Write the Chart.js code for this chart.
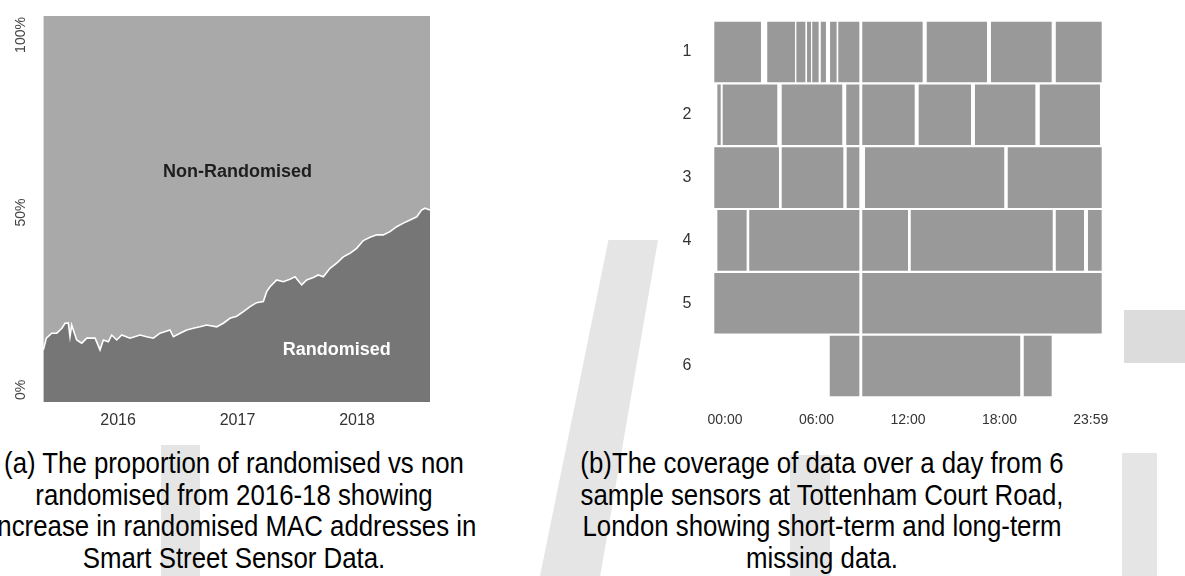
<!DOCTYPE html>
<html>
<head>
<meta charset="utf-8">
<script src="https://cdn.jsdelivr.net/npm/chart.js@4.4.1/dist/chart.umd.min.js"></script>
<style>
  body { margin: 0; background: #fff; width: 1185px; height: 576px; overflow: hidden; position: relative; font-family: "Liberation Sans", Arial, Helvetica, sans-serif; }
  .box { position: absolute; top: 0; }
  .wm { position: absolute; background: #e5e5e5; }
  .cap { position: absolute; top: 447px; font-size: 30px; line-height: 31.7px; color: #000; text-align: center; white-space: nowrap; transform: scaleX(0.86); transform-origin: center top; }
</style>
</head>
<body>
<!-- faint watermark behind the figure -->
<div class="wm" style="left:161px;top:445px;width:39px;height:131px"></div>
<div class="wm" style="left:540px;top:240px;width:118px;height:336px;clip-path:polygon(58% 0,100% 0,51% 100%,0 100%)"></div>
<div class="wm" style="left:790px;top:455px;width:40px;height:121px"></div>
<div class="wm" style="left:1122px;top:453px;width:35px;height:123px"></div>
<div class="wm" style="left:1124px;top:310px;width:61px;height:53px;background:#dcdcdc"></div>

<div class="box" style="left:0px"><canvas id="left" width="445" height="440"></canvas></div>
<div class="box" style="left:665px"><canvas id="right" width="470" height="440"></canvas></div>
<div class="cap" style="left:-86px;width:640px">(a) The proportion of randomised vs non<br>randomised from 2016-18 showing<br>increase in randomised MAC addresses in<br>Smart Street Sensor Data.</div>
<div class="cap" style="left:502px;width:640px">(b)The coverage of data over a day from 6<br>sample sensors at Tottenham Court Road,<br>London showing short-term and long-term<br>missing data.</div>
<script>
// (a) share of randomised MAC addresses
const years = [2015.375, 2015.40, 2015.445, 2015.487, 2015.53, 2015.556, 2015.584, 2015.598, 2015.612, 2015.654,
  2015.696, 2015.738, 2015.808, 2015.849, 2015.877, 2015.919, 2015.947, 2015.989, 2016.031, 2016.10,
  2016.184, 2016.24, 2016.295, 2016.351, 2016.435, 2016.463, 2016.519, 2016.575, 2016.63, 2016.686,
  2016.742, 2016.826, 2016.881, 2016.937, 2016.993, 2017.049, 2017.105, 2017.16, 2017.216, 2017.244,
  2017.272, 2017.328, 2017.383, 2017.439, 2017.481, 2017.537, 2017.579, 2017.634, 2017.676, 2017.718,
  2017.774, 2017.83, 2017.885, 2017.941, 2017.997, 2018.053, 2018.109, 2018.165, 2018.22, 2018.276,
  2018.332, 2018.388, 2018.444, 2018.5, 2018.54, 2018.569, 2018.611];
const randomised = [11.3, 14.6, 16.0, 16.0, 17.4, 18.8, 18.9, 15.0, 18.3, 14.1,
  13.2, 14.6, 14.6, 11.3, 14.1, 13.6, 15.5, 14.1, 15.5, 14.6,
  15.5, 15.0, 14.6, 16.0, 16.9, 15.0, 16.0, 16.9, 17.4, 17.8,
  18.3, 17.8, 18.8, 20.2, 20.8, 22.1, 23.5, 24.6, 24.9, 27.7,
  29.1, 31.0, 30.5, 31.2, 31.9, 29.6, 31.0, 31.7, 32.4, 31.9,
  34.3, 35.7, 37.5, 38.5, 39.9, 42.1, 43.0, 43.7, 43.7, 44.6,
  46.0, 47.0, 47.9, 48.8, 50.7, 51.2, 50.7];
const yearTicks = [2016, 2017, 2018];
const pctTicks = [0, 50, 100];
const areaLabels = [
  {text: 'Non-Randomised', x: 2017.0, y: 61.5, color: '#1e1e1e'},
  {text: 'Randomised', x: 2017.83, y: 11.3, color: '#ffffff'}
];

// (b) hours covered per sensor, [start, end]
const sensors = ['1', '2', '3', '4', '5', '6'];
const sensor1 = [[-0.70, 2.36], [2.77, 4.59], [4.68, 5.27], [5.38, 5.64], [5.72, 6.14], [6.28, 6.62], [6.89, 7.32], [7.43, 8.81], [9.00, 12.96], [13.23, 17.18], [17.44, 21.42], [21.69, 24.70]];
const sensor2 = [[-0.50, -0.28], [-0.15, 3.43], [3.72, 7.69], [7.95, 8.81], [9.00, 12.44], [12.70, 16.13], [16.39, 20.35], [20.64, 24.59]];
const sensor3 = [[-0.70, 3.54], [3.72, 7.76], [7.98, 8.81], [9.18, 18.31], [18.54, 24.70]];
const sensor4 = [[-0.50, 1.42], [1.59, 8.81], [9.00, 12.00], [12.18, 21.49], [21.69, 23.54], [23.80, 24.70]];
const sensor5 = [[-0.70, 8.81], [9.00, 24.70]];
const sensor6 = [[6.87, 8.81], [9.00, 19.36], [19.59, 21.42]];
const hourTicks = [0, 6, 12, 18, 23.983];
const hourLabels = ['00:00', '06:00', '12:00', '18:00', '23:59'];

const FONT = '"Liberation Sans", Arial, Helvetica, sans-serif';

// text inside the areas
const areaText = {
  id: 'areaText',
  afterDatasetsDraw(chart) {
    const ctx = chart.ctx;
    ctx.save();
    ctx.font = 'bold 18px ' + FONT;
    ctx.textAlign = 'center';
    ctx.textBaseline = 'middle';
    areaLabels.forEach(l => {
      ctx.fillStyle = l.color;
      ctx.fillText(l.text, chart.scales.x.getPixelForValue(l.x), chart.scales.y.getPixelForValue(l.y));
    });
    ctx.restore();
  }
};

const pts = years.map((x, i) => ({x: x, y: randomised[i]}));
const noGrid = { display: false, drawTicks: false };

new Chart(document.getElementById('left'), {
  type: 'line',
  data: {
    datasets: [
      {
        label: 'Randomised',
        data: pts,
        fill: 'start',
        backgroundColor: '#767676',
        borderColor: '#ffffff',
        borderWidth: 1.6,
        pointRadius: 0,
        tension: 0
      },
      {
        label: 'Non-Randomised',
        data: pts,
        fill: 'end',
        backgroundColor: '#a9a9a9',
        borderWidth: 0,
        pointRadius: 0,
        tension: 0
      }
    ]
  },
  options: {
    responsive: false,
    animation: false,
    devicePixelRatio: 1,
    layout: { padding: { left: 0, right: 15, top: 16, bottom: 8 } },
    plugins: { legend: { display: false }, tooltip: { enabled: false } },
    scales: {
      x: {
        type: 'linear',
        min: 2015.372, max: 2018.611,
        grid: noGrid,
        border: { display: false },
        afterBuildTicks: s => { s.ticks = yearTicks.map(v => ({value: v})); },
        afterFit: s => { s.height = 30; },
        ticks: { padding: 9.4, color: '#333', font: { family: FONT, size: 16 }, callback: v => String(v) }
      },
      y: {
        min: -3.38, max: 105.35,
        grid: noGrid,
        border: { display: false },
        afterBuildTicks: s => { s.ticks = pctTicks.map(v => ({value: v})); },
        afterFit: s => { s.width = 43; },
        ticks: { minRotation: 90, maxRotation: 90, crossAlign: 'center', padding: 4, color: '#444',
          font: { family: FONT, size: 14 }, callback: v => v + '%' }
      }
    }
  },
  plugins: [areaText]
});

// one dataset per segment slot, all drawn on the same row
const rows = [sensor1, sensor2, sensor3, sensor4, sensor5, sensor6];
const slots = Math.max(...rows.map(r => r.length));
const barSets = [];
for (let k = 0; k < slots; k++) {
  barSets.push({
    data: rows.map(r => r[k] || null),
    backgroundColor: '#999999',
    borderWidth: 0,
    borderSkipped: false,
    grouped: false,
    barPercentage: 0.965,
    categoryPercentage: 1
  });
}

new Chart(document.getElementById('right'), {
  type: 'bar',
  data: { labels: sensors, datasets: barSets },
  options: {
    indexAxis: 'y',
    responsive: false,
    animation: false,
    devicePixelRatio: 1,
    layout: { padding: { left: 17.5, right: 33, top: 20.6, bottom: 12.6 } },
    plugins: { legend: { display: false }, tooltip: { enabled: false } },
    scales: {
      x: {
        type: 'linear',
        min: -0.72, max: 24.72,
        grid: noGrid,
        border: { display: false },
        afterBuildTicks: s => { s.ticks = hourTicks.map(v => ({value: v})); },
        afterFit: s => { s.height = 30; },
        ticks: { padding: 14.2, color: '#333', font: { family: FONT, size: 14 },
          callback: (v, i) => hourLabels[i] }
      },
      y: {
        grid: noGrid,
        border: { display: false },
        afterFit: s => { s.width = 31.5; },
        ticks: { crossAlign: 'far', padding: 3, color: '#333', font: { family: FONT, size: 16 } }
      }
    }
  }
});
</script>
</body>
</html>
